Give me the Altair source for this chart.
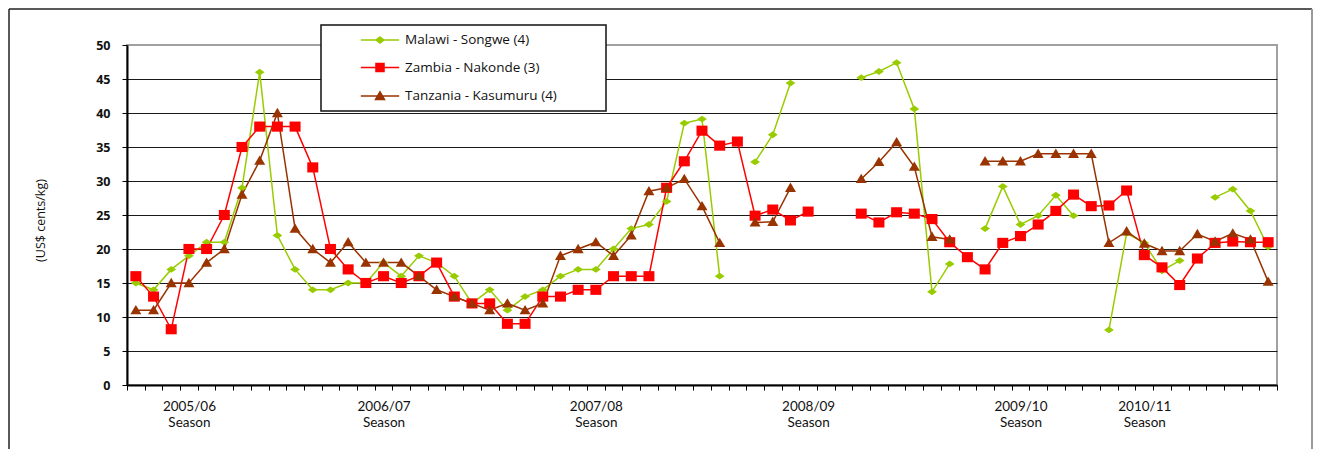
import altair as alt
import pandas as pd

# ---------------- data ----------------
series_names = ["Malawi - Songwe (4)", "Zambia - Nakonde (3)", "Tanzania - Kasumuru (4)"]

malawi = [15, 14, 17, 19, 21, 21, 29, 46, 22, 17, 14, 14, 15, 15, 18, 16, 19, 18, 16, 12,
          14, 11, 13, 14, 16, 17, 17, 20, 23, 23.6, 27, 38.5, 39.1, 16, None, 32.8, 36.8, 44.4, None, None,
          None, 45.2, 46.1, 47.4, 40.6, 13.7, 17.8, None, 23, 29.2, 23.6, 24.9, 27.9, 24.9, None, 8.1,
          22.3, 20.9, 16.8, 18.3, None, 27.6, 28.8, 25.6, 20.3]

zambia = [16, 13, 8.2, 20, 20, 25, 35, 38, 38, 38, 32, 20, 17, 15, 16, 15, 16, 18, 13, 12,
          12, 9, 9, 13, 13, 14, 14, 16, 16, 16, 29, 32.9, 37.4, 35.2, 35.8, 24.9, 25.8, 24.2, 25.5, None,
          None, 25.2, 23.9, 25.4, 25.2, 24.4, 21, 18.8, 17, 20.9, 21.9, 23.6, 25.6, 28, 26.3, 26.4,
          28.6, 19.1, 17.3, 14.7, 18.6, 20.9, 21.1, 21, 21]

tanzania = [11, 11, 15, 15, 18, 20, 28, 33, 40, 23, 20, 18, 21, 18, 18, 18, 16, 14, 13, 12,
            11, 12, 11, 12, 19, 20, 21, 19, 22, 28.5, 29, 30.3, 26.3, 20.9, None, 23.9, 24, 29, None, None,
            None, 30.3, 32.8, 35.7, 32.1, 21.8, 21.4, None, 32.9, 32.9, 32.9, 34, 34, 34, 34, 20.9,
            22.6, 20.8, 19.7, 19.7, 22.2, 21.1, 22.3, 21.4, 15.2]

season_labels = ["2005/06", "2006/07", "2007/08", "2008/09", "2009/10", "2010/11"]
season_index = [3, 14, 26, 38, 50, 57]
y_ticks = [0, 5, 10, 15, 20, 25, 30, 35, 40, 45, 50]
n_months = len(malawi)

# ---------------- styles ----------------
colors = ["#99CC00", "#FF0000", "#993300"]
marker_paths = [
    "M0,-0.62L0.9,0L0,0.62L-0.9,0Z",
    "M-1,-0.92L1,-0.92L1,0.92L-1,0.92Z",
    "M0,-0.95L1,0.75L-1,0.75Z",
]
legend_paths = [
    "M-3.2,0L3.2,0M0,-0.5L0.67,0L0,0.5L-0.67,0Z",
    "M-3.2,0L3.2,0M-0.67,-0.67L0.67,-0.67L0.67,0.67L-0.67,0.67Z",
    "M-3.2,0L3.2,0M0,-0.7L0.75,0.6L-0.75,0.6Z",
]
FONT = "Open Sans"
XFONT = "Lato"
W, H = 1150, 340
PAD = {"left": 119, "top": 37, "right": 36, "bottom": 64}

rows = []
for name, vals in zip(series_names, [malawi, zambia, tanzania]):
    for i, v in enumerate(vals):
        rows.append({"idx": i, "value": v, "series": name})
df = pd.DataFrame(rows)

tick_values = [k - 0.5 for k in range(n_months + 1)]
label_expr = " : ".join(
    f"datum.value == {p - 0.5} ? ['{lab}', 'Season']" for lab, p in zip(season_labels, season_index)
) + " : ''"

x_enc = alt.X(
    "idx:Q",
    scale=alt.Scale(domain=[-0.5, n_months - 0.5], nice=False, zero=False),
    axis=alt.Axis(
        values=tick_values, labelExpr=label_expr, labelOffset=W / n_months / 2,
        labelOverlap=False, labelFlush=False, labelBound=False,
        labelFont=XFONT, labelFontSize=13.5, labelColor="#111", labelLineHeight=16.5,
        labelPadding=9, tickSize=5, tickColor="#000", tickWidth=1,
        domainColor="#000", domainWidth=2, grid=False, title=None,
    ),
)
y_enc = alt.Y(
    "value:Q",
    scale=alt.Scale(domain=[0, 50], nice=False),
    axis=alt.Axis(
        values=y_ticks, labelFont=FONT, labelFontSize=12.5, labelFontWeight="bold",
        labelColor="#111", labelPadding=12, tickSize=5, tickColor="#000",
        domainColor="#000", domainWidth=2,
        grid=True, gridColor=alt.condition("datum.value == 50", alt.value("#a0a0a0"), alt.value("#1a1a1a")),
        gridWidth=1,
        title="(US$ cents/kg)", titleFont=FONT, titleFontSize=12.5, titleFontWeight="normal",
        titleColor="#111", titleAngle=270, titleX=-87, titleY=H / 2 + 5,
        titleAlign="center", titleBaseline="middle",
    ),
)

line_layers, point_layers = [], []
for name, col, path in zip(series_names, colors, marker_paths):
    base = alt.Chart(df).transform_filter(alt.datum.series == name)
    line_layers.append(
        base.mark_line(strokeWidth=1.5, color=col, invalid="break-paths-filter-domains")
        .encode(x=x_enc, y=y_enc)
    )
    point_layers.append(
        base.mark_point(filled=True, opacity=1, size=121, strokeWidth=0, shape=path, color=col)
        .encode(x=x_enc, y=y_enc)
    )

leg = alt.Legend(
    title=" ", titleOrient="right", titlePadding=41, titleFontSize=4,
    orient="none", legendX=194, legendY=-20, padding=8,
    strokeColor="#111", fillColor="#ffffff", rowPadding=12.5,
    symbolSize=144, symbolOffset=44, symbolStrokeWidth=1.5, symbolOpacity=1,
    labelOffset=18, labelFont=FONT, labelFontSize=13.5, labelColor="#111",
)
legend_layer = alt.Chart(df).transform_filter("datum.idx < 0").mark_point(filled=True, strokeWidth=1.5).encode(
    x=x_enc, y=y_enc,
    fill=alt.Fill("series:N", scale=alt.Scale(domain=series_names, range=colors), legend=leg),
    stroke=alt.Stroke("series:N", scale=alt.Scale(domain=series_names, range=colors), legend=leg),
    shape=alt.Shape("series:N", scale=alt.Scale(domain=series_names, range=legend_paths), legend=leg),
)

frame_df = pd.DataFrame({"a": [0]})
total_h = H + PAD["top"] + PAD["bottom"]
frame_left = alt.Chart(frame_df).mark_rule(color="#222", strokeWidth=1.5).encode(
    x=alt.value(-118), y=alt.value(-36), y2=alt.value(total_h - PAD["top"]))
frame_top = alt.Chart(frame_df).mark_rule(color="#222", strokeWidth=1.5).encode(
    x=alt.value(-118), x2=alt.value(W + PAD["right"] - 1), y=alt.value(-36))
frame_right = alt.Chart(frame_df).mark_rule(color="#9a9a9a", strokeWidth=2).encode(
    x=alt.value(W + PAD["right"] - 1), y=alt.value(-36), y2=alt.value(total_h - PAD["top"]))

chart = (
    alt.layer(*line_layers, *point_layers, legend_layer, frame_left, frame_top, frame_right)
    .properties(width=W, height=H, autosize=alt.AutoSizeParams(type="none"), padding=PAD,
                background="#ffffff")
    .configure_view(stroke="#a0a0a0", strokeWidth=2)
    .configure_legend(strokeWidth=1.5)
)

chart.save("out.html", embed_options={"renderer": "svg", "actions": False})
